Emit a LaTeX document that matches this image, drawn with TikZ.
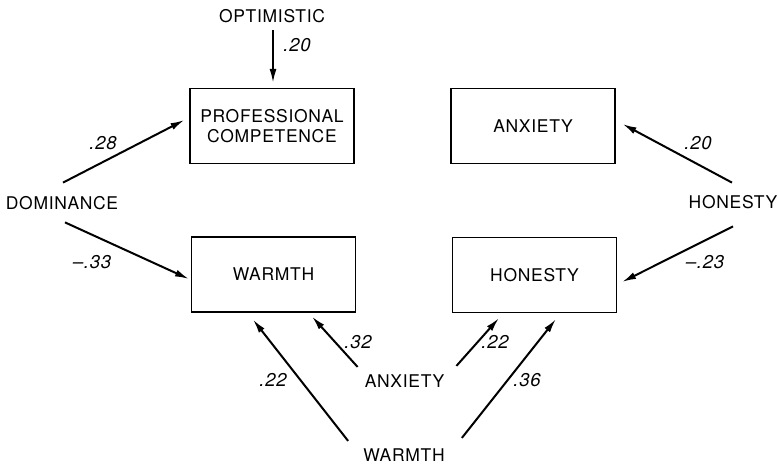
\documentclass[tikz,border=0pt]{standalone}
\usepackage{fontspec}
\usetikzlibrary{arrows.meta}
\newfontfamily\labfont[LetterSpace=4]{TeX Gyre Heros}
\tikzset{
  box/.style={draw, line width=1.1pt, rectangle, minimum width=164pt, minimum height=75pt, inner sep=0pt, align=center, font=\labfont\fontsize{17.5}{21}\selectfont},
  var/.style={inner sep=0pt, font=\labfont\fontsize{17.5}{21}\selectfont},
  coef/.style={inner sep=0pt, font=\labfont\itshape\fontsize{18.5}{21}\selectfont},
  path/.style={line width=2pt, -{Latex[length=14pt,width=7pt]}}
}
\begin{document}
\begin{tikzpicture}[x=1pt,y=1pt]
\useasboundingbox (0,0) rectangle (778,466);
% boxes
\node[box] (pc) at (272,340) {PROFESSIONAL\\[-1pt]COMPETENCE};
\node[box] (anx) at (533,340) {ANXIETY};
\node[box] (warm) at (273.5,191.5) {WARMTH};
\node[box] (hon) at (534.5,191) {HONESTY};
% predictors
\node[var] (opt) at (272,450) {OPTIMISTIC};
\node[var] (dom) at (62,263) {DOMINANCE};
\node[var] (honR) at (733,264) {HONESTY};
\node[var] (anxB) at (404.5,85) {ANXIETY};
\node[var] (warmB) at (404,11) {WARMTH};
% paths
\draw[path] ([shift={(1pt,-7.5pt)}]opt.south) -- ([shift={(1pt,5pt)}]pc.north);
\draw[path] ([shift={(1pt,13.5pt)}]dom.north) -- ([shift={(-5pt,6pt)}]pc.west);
\draw[path] ([shift={(3pt,-12.5pt)}]dom.south) -- ([shift={(-2pt,-4.5pt)}]warm.west);
\draw[path] ([shift={(-1pt,12.5pt)}]honR.north) -- ([shift={(7pt,2pt)}]anx.east);
\draw[path] ([shift={(0pt,-17.5pt)}]honR.south) -- ([shift={(5pt,-7pt)}]hon.east);
\draw[path] ([shift={(-7pt,7.5pt)}]anxB.north west) -- ([shift={(38.5pt,-4pt)}]warm.south);
\draw[path] ([shift={(-15pt,7.5pt)}]warmB.north west) -- ([shift={(-20.5pt,-7pt)}]warm.south);
\draw[path] ([shift={(12pt,8.5pt)}]anxB.north east) -- ([shift={(-35.5pt,-5pt)}]hon.south);
\draw[path] ([shift={(17pt,10.5pt)}]warmB.north east) -- ([shift={(21.5pt,-6pt)}]hon.south);
% coefficients
\node[coef] (c1) at (297,421) {.20};
\node[coef] (c2) at (103,323) {.28};
\node[coef] (c3) at (92,204) {–.33};
\node[coef] (c4) at (698,323) {.20};
\node[coef] (c5) at (705,204) {–.23};
\node[coef] (c6) at (358,124) {.32};
\node[coef] (c7) at (273,86) {.22};
\node[coef] (c8) at (495,124) {.22};
\node[coef] (c9) at (527,86) {.36};
\end{tikzpicture}
\end{document}
